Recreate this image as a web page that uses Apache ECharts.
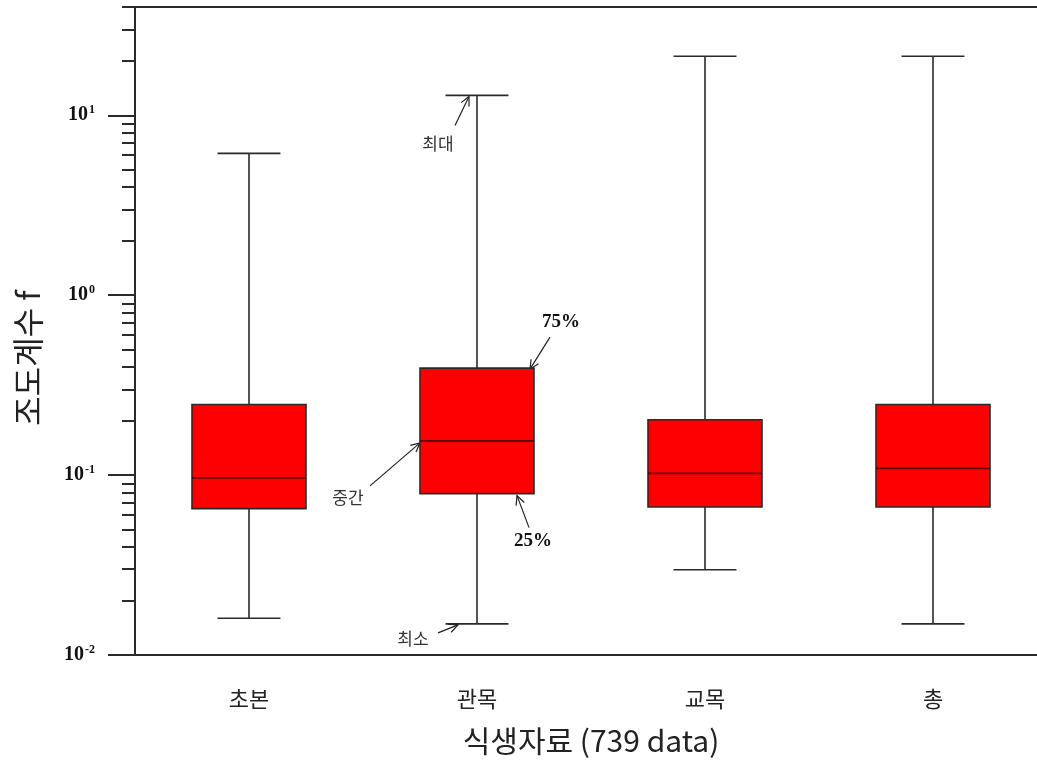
<!DOCTYPE html>
<html>
<head>
<meta charset="utf-8">
<script src="https://cdn.jsdelivr.net/npm/echarts@6/dist/echarts.min.js"></script>
<style>
html,body{margin:0;padding:0;background:#fff;}
#chart{width:1037px;height:764px;}
</style>
</head>
<body>
<div id="chart"></div>
<script>
// ---- data ----
const categories = ['초본', '관목', '교목', '총'];
const minVals    = [0.0160, 0.0149, 0.0298, 0.0149];
const q1Vals     = [0.0651, 0.0789, 0.0665, 0.0665];
const medianVals = [0.0964, 0.155, 0.1023, 0.109];
const q3Vals     = [0.247, 0.393, 0.203, 0.247];
const maxVals    = [6.14, 12.9, 21.3, 21.3];
const majorTickValues = [0.01, 0.1, 1, 10];
const minorTickValues = [0.02,0.03,0.04,0.05,0.06,0.07,0.08,0.09,
                         0.2,0.3,0.4,0.5,0.6,0.7,0.8,0.9,
                         2,3,4,5,6,7,8,9,20,30,40];
const yMin = 0.01, yMax = 40;
const xAxisTitle = '식생자료 (739 data)';
const yAxisTitle = '조도계수 f';

const boxData = categories.map((c, i) => [i, minVals[i], q1Vals[i], medianVals[i], q3Vals[i], maxVals[i]]);

const INK = '#2a2a2a';
const chart = echarts.init(document.getElementById('chart'), null, {renderer: 'canvas'});

function supLabel(v) {
  const e = Math.round(Math.log10(v));
  if (Math.abs(Math.pow(10, e) - v) / v > 1e-6) return '';
  return '{b|10}{s|' + e + '}';
}

const option = {
  animation: false,
  backgroundColor: '#fff',
  grid: {left: 135, top: 7, width: 912, height: 648, show: true, containLabel: false,
         outerBoundsMode: 'none',
         borderColor: INK, borderWidth: 2, backgroundColor: 'transparent'},
  xAxis: {
    type: 'category', data: categories, boundaryGap: true,
    axisLine: {lineStyle: {color: INK, width: 2}},
    axisTick: {alignWithLabel: true, length: 25, lineStyle: {color: INK, width: 2}},
    axisLabel: {margin: 33, fontSize: 22, color: '#222', fontFamily: 'Noto Sans CJK KR'},
    name: xAxisTitle, nameLocation: 'middle', nameGap: 71,
    nameTextStyle: {fontSize: 30, color: '#222', fontFamily: 'Noto Sans CJK KR'}
  },
  yAxis: [{
    type: 'log', logBase: 10, min: yMin, max: yMax, position: 'left',
    axisLine: {show: true, lineStyle: {color: INK, width: 2}},
    axisTick: {show: true, length: 27, customValues: majorTickValues, lineStyle: {color: INK, width: 2}},
    splitLine: {show: false},
    axisLabel: {
      margin: 40, customValues: majorTickValues, formatter: supLabel,
      rich: {
        b: {fontFamily: 'Liberation Serif', fontWeight: 'bold', fontSize: 20, color: '#111'},
        s: {fontFamily: 'Liberation Serif', fontWeight: 'bold', fontSize: 12, color: '#111',
            verticalAlign: 'bottom', padding: [0, 0, 10, 1]}
      }
    },
    name: yAxisTitle, nameLocation: 'middle', nameGap: 91, nameRotate: 90,
    nameTextStyle: {fontSize: 32, color: '#222', fontFamily: 'Noto Sans CJK KR', padding: [0, 54, 0, 0]}
  }, {
    type: 'log', logBase: 10, min: yMin, max: yMax, position: 'left',
    axisLine: {show: false},
    axisTick: {show: true, length: 13, customValues: minorTickValues, lineStyle: {color: INK, width: 2}},
    splitLine: {show: false},
    axisLabel: {show: false}
  }],
  series: [{
    type: 'custom',
    xAxisIndex: 0, yAxisIndex: 0,
    encode: {x: 0, y: [1, 2, 3, 4, 5]},
    data: boxData,
    clip: false,
    renderItem: function (params, api) {
      const idx = api.value(0);
      const pMin = api.coord([idx, api.value(1)]);
      const pQ1 = api.coord([idx, api.value(2)]);
      const pMed = api.coord([idx, api.value(3)]);
      const pQ3 = api.coord([idx, api.value(4)]);
      const pMax = api.coord([idx, api.value(5)]);
      const band = api.coord([idx + 1, api.value(3)])[0] - pMed[0];
      const half = band * 0.25, cap = band * 0.138;
      const x = pMed[0];
      const ls = {stroke: INK, lineWidth: 1.6};
      return {
        type: 'group',
        children: [
          {type: 'line', shape: {x1: x, y1: pMax[1], x2: x, y2: pQ3[1]}, style: ls},
          {type: 'line', shape: {x1: x, y1: pQ1[1], x2: x, y2: pMin[1]}, style: ls},
          {type: 'line', shape: {x1: x - cap, y1: pMax[1], x2: x + cap, y2: pMax[1]}, style: ls},
          {type: 'line', shape: {x1: x - cap, y1: pMin[1], x2: x + cap, y2: pMin[1]}, style: ls},
          {type: 'rect', shape: {x: x - half, y: pQ3[1], width: 2 * half, height: pQ1[1] - pQ3[1]},
           style: {fill: '#FF0000', stroke: INK, lineWidth: 1.6}},
          {type: 'line', shape: {x1: x - half, y1: pMed[1], x2: x + half, y2: pMed[1]},
           style: {stroke: '#5a0000', lineWidth: 1.8}}
        ]
      };
    }
  }]
};
chart.setOption(option);

// ---- annotations (anchored to the 관목 box through the chart's scales) ----
const annIdx = 1;
const annotations = [
  {text: '최대', v: maxVals[annIdx],    tip: [-8, 1],  tail: [-22, 30], label: [-39, 48], serif: false},
  {text: '75%',  v: q3Vals[annIdx],     tip: [53, 1],  tail: [73, -31], label: [84, -46], serif: true},
  {text: '중간', v: medianVals[annIdx], tip: [-57, 2], tail: [-107, 45], label: [-129, 57], serif: false},
  {text: '25%',  v: q1Vals[annIdx],     tip: [40, 2],  tail: [52, 34],  label: [56, 47],  serif: true},
  {text: '최소', v: minVals[annIdx],    tip: [-19, 1], tail: [-39, 9],  label: [-64, 15], serif: false}
];
const graphics = [];
annotations.forEach(a => {
  const p = chart.convertToPixel({xAxisIndex: 0, yAxisIndex: 0}, [annIdx, a.v]);
  const tx = p[0] + a.tip[0], ty = p[1] + a.tip[1];
  const sx = p[0] + a.tail[0], sy = p[1] + a.tail[1];
  const ang = Math.atan2(ty - sy, tx - sx);
  const hl = 10, spread = 0.45;
  const st = {stroke: '#222', lineWidth: 1.2};
  graphics.push({type: 'line', shape: {x1: sx, y1: sy, x2: tx, y2: ty}, style: st, silent: true});
  graphics.push({type: 'polyline', shape: {points: [
    [tx - hl * Math.cos(ang - spread), ty - hl * Math.sin(ang - spread)],
    [tx, ty],
    [tx - hl * Math.cos(ang + spread), ty - hl * Math.sin(ang + spread)]
  ]}, style: st, silent: true});
  graphics.push({type: 'text', x: p[0] + a.label[0], y: p[1] + a.label[1], silent: true,
    style: {text: a.text, align: 'center', verticalAlign: 'middle',
      fontFamily: a.serif ? 'Liberation Serif' : 'Noto Sans CJK KR',
      fontWeight: a.serif ? 'bold' : 'normal',
      fontSize: a.serif ? 19 : 17, fill: a.serif ? '#111' : '#333'}});
});
chart.setOption({graphic: graphics});
</script>
</body>
</html>
